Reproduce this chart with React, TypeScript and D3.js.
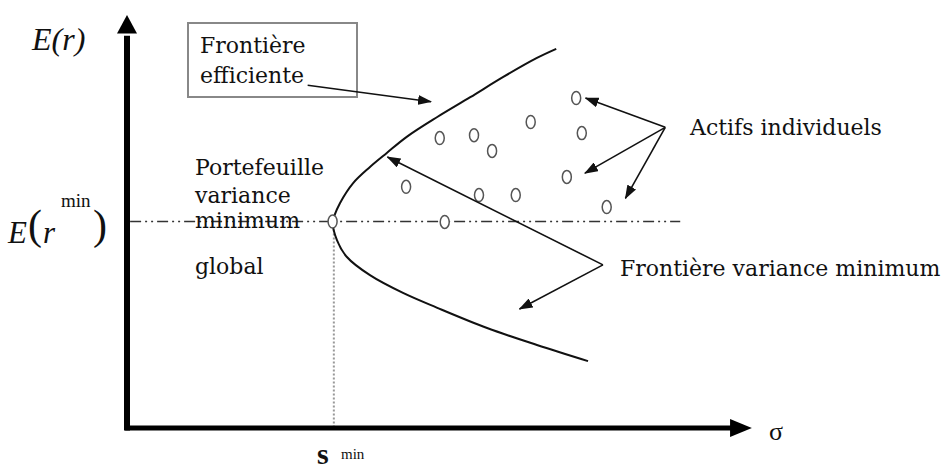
import React from "react";
import * as d3 from "d3";

const W = 947;
const H = 473;

// Efficient / minimum-variance frontier (sigma, E(r)) in chart units, from top end to bottom end
const frontierUpper: [number, number][] = [
  [6.89, 9.18], [6.58, 8.96], [6.04, 8.5], [5.51, 8.01], [4.98, 7.53], [4.49, 7.05],
  [4.17, 6.66], [3.9, 6.32], [3.63, 5.93], [3.42, 5.45], [3.32, 5.11],
];
const frontierVertex: [number, number] = [3.3, 5.0];
const frontierLower: [number, number][] = [
  [3.37, 4.55], [3.53, 4.14], [3.9, 3.7], [4.43, 3.27], [4.98, 2.91],
  [5.78, 2.42], [6.58, 2.01], [7.4, 1.62],
];
// Individual assets
const assets: [number, number][] = [
  [7.21, 7.99], [6.48, 7.41], [7.3, 7.14], [5.02, 7.02], [5.57, 7.09], [5.86, 6.71],
  [7.06, 6.08], [4.48, 5.84], [5.65, 5.64], [6.24, 5.64], [7.7, 5.35], [5.1, 4.99],
];
const eMin = 5.0;
const sMin = 3.32;
const eMinLineEnd = 8.88;

// Annotation arrows (from, to) in chart units
const actifsFrom: [number, number] = [8.64, 7.28];
const actifsTargets: [number, number][] = [[7.36, 7.99], [7.35, 6.17], [8.0, 5.56]];
const fvmFrom: [number, number] = [7.64, 3.95];
const fvmTargets: [number, number][] = [[4.18, 6.56], [6.3, 2.88]];
const effFrom: [number, number] = [2.9, 8.3];
const effTo: [number, number] = [4.88, 7.9];

const labelsLeft = ["Portefeuille", "variance", "minimum", "global"];

export default function App() {
  const x = d3.scaleLinear().domain([0, 10]).range([127, 750]);
  const y = d3.scaleLinear().domain([0, 10]).range([428, 15]);
  const frontier = [...frontierUpper, frontierVertex, ...frontierLower];
  const line = d3
    .line<[number, number]>()
    .x((d) => x(d[0]))
    .y((d) => y(d[1]))
    .curve(d3.curveCatmullRom.alpha(0.5));

  const serif = "'DejaVu Serif', serif";
  const times = "'Liberation Serif', 'Times New Roman', serif";
  const fs = 22;

  const arrow = (from: [number, number], to: [number, number], key: string) => (
    <line
      key={key}
      x1={x(from[0])}
      y1={y(from[1])}
      x2={x(to[0])}
      y2={y(to[1])}
      stroke="#111"
      strokeWidth={1.6}
      markerEnd="url(#ah)"
    />
  );

  return (
    <svg
      width={W}
      height={H}
      style={{ position: "fixed", left: 0, top: 0, background: "#fff" }}
    >
      <defs>
        <marker
          id="ah"
          viewBox="0 0 14 10"
          refX={13}
          refY={5}
          markerWidth={14}
          markerHeight={10}
          markerUnits="userSpaceOnUse"
          orient="auto"
        >
          <path d="M0,0 L14,5 L0,10 Z" fill="#111" />
        </marker>
      </defs>
      <rect width={W} height={H} fill="#fff" />

      {/* E(r^min) dash-dot-dot line */}
      <line
        x1={x(0.05)}
        x2={x(eMinLineEnd)}
        y1={y(eMin)}
        y2={y(eMin)}
        stroke="#333"
        strokeWidth={1.5}
        strokeDasharray="11,4,2,4,2,4"
      />
      {/* sigma min dotted line */}
      <line
        x1={x(sMin)}
        x2={x(sMin)}
        y1={y(eMin)}
        y2={y(0)}
        stroke="#999"
        strokeWidth={2}
        strokeDasharray="2,2"
      />

      {/* axes */}
      <line x1={x(0)} x2={x(0)} y1={y(0) + 2.5} y2={y(9.5)} stroke="#000" strokeWidth={6} />
      <path
        d={`M${x(0)},${y(10)} L${x(0) + 10},${y(9.55)} L${x(0) - 10},${y(9.55)} Z`}
        fill="#000"
      />
      <line x1={x(-0.03)} x2={x(9.7)} y1={y(0)} y2={y(0)} stroke="#000" strokeWidth={5} />
      <path
        d={`M${x(10.03)},${y(0)} L${x(9.68)},${y(0) - 9} L${x(9.68)},${y(0) + 9} Z`}
        fill="#000"
      />

      {/* frontier */}
      <path d={line(frontier) || ""} fill="none" stroke="#111" strokeWidth={2} />

      {/* assets */}
      {[frontierVertex, ...assets].map((d, i) => (
        <ellipse
          key={i}
          cx={x(d[0])}
          cy={y(d[1])}
          rx={4.5}
          ry={6.5}
          fill="#fff"
          stroke="#555"
          strokeWidth={1.5}
        />
      ))}

      {/* annotation arrows */}
      {actifsTargets.map((t, i) => arrow(actifsFrom, t, "a" + i))}
      {fvmTargets.map((t, i) => arrow(fvmFrom, t, "f" + i))}

      {/* box */}
      <rect x={188} y={23} width={169} height={74} fill="#fff" stroke="#888" strokeWidth={2} />
      <text x={200} y={53} fontFamily={serif} fontSize={fs} fill="#111">Frontière</text>
      <text x={200} y={83} fontFamily={serif} fontSize={fs} fill="#111">efficiente</text>
      {arrow(effFrom, effTo, "e")}

      {/* left labels */}
      {labelsLeft.map((t, i) => (
        <text
          key={t}
          x={195}
          y={[175, 203, 228, 274][i]}
          fontFamily={serif}
          fontSize={fs}
          fill="#111"
        >
          {t}
        </text>
      ))}

      <text x={690} y={135} fontFamily={serif} fontSize={fs} fill="#111">Actifs individuels</text>
      <text x={620} y={276} fontFamily={serif} fontSize={fs} fill="#111">Frontière variance minimum</text>

      {/* axis labels */}
      <text x={32} y={50} fontFamily={times} fontStyle="italic" fontSize={32} fill="#111">E(r)</text>
      <g fontFamily={times} fill="#111">
        <text x={8} y={243} fontStyle="italic" fontSize={31}>E</text>
        <text x={28} y={239} fontSize={42}>(</text>
        <text x={43} y={243} fontStyle="italic" fontSize={31}>r</text>
        <text x={61} y={207} fontSize={19}>min</text>
        <text x={93} y={239} fontSize={42}>)</text>
      </g>
      <text x={769} y={440} fontFamily={times} fontSize={26} fill="#111">σ</text>
      <text x={317} y={464} fontFamily={times} fontSize={30} fontWeight="bold" fill="#111">s</text>
      <text x={341} y={459} fontFamily={times} fontSize={15} fill="#111">min</text>
    </svg>
  );
}
